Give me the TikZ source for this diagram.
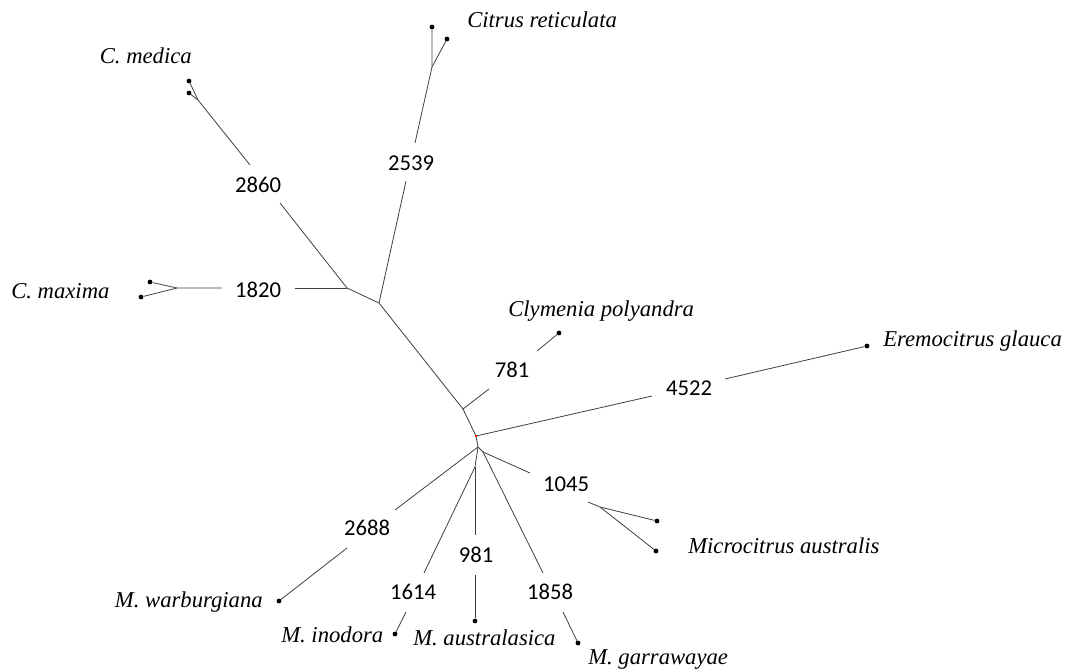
\documentclass[tikz,border=0pt]{standalone}
\usepackage{fontspec}
\setmainfont{Liberation Serif}
\newfontfamily\numfont{Carlito}
\begin{document}
\begin{tikzpicture}[x=0.75pt,y=-0.75pt,
  br/.style={line width=0.6pt, draw=black!75},
  tipdot/.style={circle, fill=black, inner sep=0pt, minimum size=3.6pt},
  taxon/.style={font=\fontsize{17}{20}\selectfont\itshape, inner sep=0pt},
  num/.style={font=\numfont\fontsize{17}{20}\selectfont, inner sep=0pt}]
\useasboundingbox (0,0) rectangle (1068,670);

% internal points
\coordinate (r) at (476,436);
\coordinate (p) at (463,409);
\coordinate (q) at (379,303);
\coordinate (s) at (347,288);
\coordinate (n1) at (478,447);
\coordinate (n2) at (483,452);
\coordinate (n3) at (475,467);

% segment ends around labels
\coordinate (c1) at (406,181); \coordinate (c2) at (415,143); \coordinate (cf) at (432,67);
\coordinate (m1) at (280,203); \coordinate (m2) at (250,165); \coordinate (mf) at (198,100);
\coordinate (x1) at (295,288); \coordinate (x2) at (222,288); \coordinate (xf) at (177,288);
\coordinate (k1) at (489,389); \coordinate (k2) at (537,351);
\coordinate (e1) at (652,396); \coordinate (e2) at (725,379);
\coordinate (w1) at (395,510); \coordinate (w2) at (347,548);
\coordinate (d1) at (475,535); \coordinate (d2) at (475,575);
\coordinate (i1) at (424,573); \coordinate (i2) at (406,612);
\coordinate (g1) at (543,573); \coordinate (g2) at (563,612);
\coordinate (a1) at (530,473); \coordinate (a2) at (588,502); \coordinate (af) at (600,507);

% tips
\node[tipdot] (t1) at (432,27) {};
\node[tipdot] (t2) at (447,39) {};
\node[tipdot] (t3) at (189,81) {};
\node[tipdot] (t4) at (189,93) {};
\node[tipdot] (t5) at (150,282) {};
\node[tipdot] (t6) at (141,297) {};
\node[tipdot] (t7) at (559,333) {};
\node[tipdot] (t8) at (867,346) {};
\node[tipdot] (t9) at (657,521) {};
\node[tipdot] (t10) at (656,551) {};
\node[tipdot] (t11) at (279,601) {};
\node[tipdot] (t12) at (395,634) {};
\node[tipdot] (t13) at (475,621) {};
\node[tipdot] (t14) at (578,643) {};

% branches
\draw[br] (r) -- (p) -- (q) -- (s);
\draw[br] (q) -- (c1);
\draw[br] (c2) -- (cf) -- (t1);
\draw[br] (cf) -- (t2);
\draw[br] (s) -- (m1);
\draw[br] (m2) -- (mf) -- (t3);
\draw[br] (mf) -- (t4);
\draw[br] (s) -- (x1);
\draw[br] (x2) -- (xf) -- (t5);
\draw[br] (xf) -- (t6);
\draw[br] (p) -- (k1);
\draw[br] (k2) -- (t7);
\draw[br] (r) -- (e1);
\draw[br] (e2) -- (t8);
\draw[br] (r) -- (n1);
\draw[br] (n1) -- (w1);
\draw[br] (w2) -- (t11);
\draw[br] (n1) -- (n2);
\draw[br] (n1) -- (n3);
\draw[br] (n3) -- (d1);
\draw[br] (d2) -- (t13);
\draw[br] (n3) -- (i1);
\draw[br] (i2) -- (t12);
\draw[br] (n2) -- (g1);
\draw[br] (g2) -- (t14);
\draw[br] (n2) -- (a1);
\draw[br] (a2) -- (af) -- (t9);
\draw[br] (af) -- (t10);

\node[fill=red, inner sep=0pt, minimum size=2.2pt] (rootdot) at (r) {};

% branch-length labels
\node[num] (l2539) at (411,163) {2539};
\node[num] (l2860) at (258,185) {2860};
\node[num] (l1820) at (258,290) {1820};
\node[num] (l781) at (512,370) {781};
\node[num] (l4522) at (689,388) {4522};
\node[num] (l1045) at (566,484) {1045};
\node[num] (l2688) at (367,528) {2688};
\node[num] (l1614) at (413,592) {1614};
\node[num] (l981) at (476,555) {981};
\node[num] (l1858) at (550,592) {1858};

% taxa
\node[taxon, anchor=base west] (citr) at (467,28) {Citrus reticulata};
\node[taxon, anchor=base east] (cmed) at (192,64) {C. medica};
\node[taxon, anchor=base west] (cmax) at (11,299) {C. maxima};
\node[taxon, anchor=base west] (clym) at (508,317) {Clymenia polyandra};
\node[taxon, anchor=base west] (erem) at (883,347) {Eremocitrus glauca};
\node[taxon, anchor=base west] (micr) at (688,553) {Microcitrus australis};
\node[taxon, anchor=base east] (mwar) at (263,607) {M. warburgiana};
\node[taxon, anchor=base west] (mino) at (281,642) {M. inodora};
\node[taxon, anchor=base west] (maus) at (413,645) {M. australasica};
\node[taxon, anchor=base west] (mgar) at (588,664) {M. garrawayae};
\end{tikzpicture}
\end{document}
